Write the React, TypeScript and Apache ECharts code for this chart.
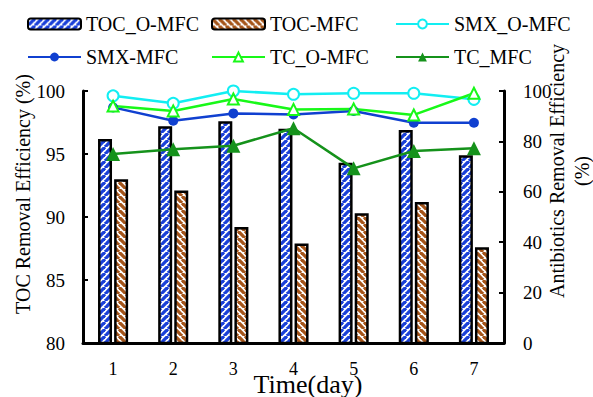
import React, { useEffect, useRef } from "react";
import * as echarts from "echarts";

const categories = ["1", "2", "3", "4", "5", "6", "7"];
const tocOMfc = [96.2, 97.2, 97.6, 97.0, 94.3, 96.9, 94.9];
const tocMfc = [93.0, 92.1, 89.2, 87.9, 90.3, 91.2, 87.6];
const smxOMfc = [98.1, 95.1, 100, 98.7, 99.1, 99.1, 96.7];
const smxMfc = [93.5, 88.2, 91.1, 90.7, 92.1, 87.4, 87.4];
const tcOMfc = [94.0, 92.1, 96.8, 92.7, 92.9, 90.5, 99.1];
const tcMfc = [75.0, 76.9, 78.3, 85.2, 69.3, 76.2, 77.3];

const FONT = "Liberation Serif";

function makeStripe(color: string, dir: "/" | "\\") {
  const c = document.createElement("canvas");
  const s = 7;
  c.width = s;
  c.height = s;
  const ctx = c.getContext("2d")!;
  ctx.fillStyle = "#ffffff";
  ctx.fillRect(0, 0, s, s);
  ctx.strokeStyle = color;
  ctx.lineWidth = 3.3;
  for (const k of [-s, 0, s]) {
    ctx.beginPath();
    if (dir === "/") {
      ctx.moveTo(k, s);
      ctx.lineTo(k + s, 0);
    } else {
      ctx.moveTo(k, 0);
      ctx.lineTo(k + s, s);
    }
    ctx.stroke();
  }
  return c;
}

export default function App() {
  const ref = useRef<HTMLDivElement>(null);
  useEffect(() => {
    if (!ref.current) return;
    const chart = echarts.init(ref.current, null, { renderer: "svg" });
    const bluePat = { image: makeStripe("#1a40d8", "/"), repeat: "repeat" };
    const brownPat = { image: makeStripe("#a5551a", "\\"), repeat: "repeat" };
    const legendBase = {
      orient: "vertical",
      top: 9,
      itemWidth: 53,
      itemHeight: 11,
      itemGap: 13,
      textStyle: { fontFamily: FONT, fontSize: 20, color: "#000", lineHeight: 20 },
    };
    const axisLabel = { fontFamily: FONT, fontSize: 19, color: "#000" };
    chart.setOption({
      animation: false,
      backgroundColor: "#fff",
      textStyle: { fontFamily: FONT },
      grid: { left: 83, right: 89, top: 91, bottom: 54 },
      legend: [
        { ...legendBase, left: 22, data: ["TOC_O-MFC", "SMX-MFC"] },
        { ...legendBase, left: 206, data: ["TOC-MFC", "TC_O-MFC"] },
        { ...legendBase, left: 390, data: ["SMX_O-MFC", "TC_MFC"] },
      ],
      xAxis: {
        type: "category",
        data: categories,
        boundaryGap: true,
        axisLine: { lineStyle: { color: "#000", width: 3 } },
        axisTick: { inside: false, length: 6, lineStyle: { color: "#000", width: 2 } },
        axisLabel: { ...axisLabel, fontSize: 18, margin: 17 },
        splitLine: { show: false },
      },
      yAxis: [
        {
          type: "value",
          min: 80,
          max: 100,
          interval: 5,
          axisLine: { show: true, lineStyle: { color: "#000", width: 3 } },
          axisTick: { show: true, inside: true, length: 5, lineStyle: { color: "#000", width: 2 } },
          axisLabel: { ...axisLabel, margin: 18 },
          splitLine: { show: false },
        },
        {
          type: "value",
          min: 0,
          max: 100,
          interval: 20,
          position: "right",
          axisLine: { show: true, lineStyle: { color: "#000", width: 3 } },
          axisTick: { show: true, inside: true, length: 5, lineStyle: { color: "#000", width: 2 } },
          axisLabel: { ...axisLabel, margin: 19 },
          splitLine: { show: false },
        },
      ],
      graphic: [
        {
          type: "text",
          x: 308,
          y: 384,
          style: {
            text: "Time(day)",
            font: `26px ${FONT}`,
            fill: "#000",
            textAlign: "center",
            textVerticalAlign: "middle",
          },
        },
        {
          type: "text",
          x: 23,
          y: 194,
          rotation: Math.PI / 2,
          style: {
            text: "TOC Removal Efficiency (%)",
            font: `20px ${FONT}`,
            fill: "#000",
            textAlign: "center",
            textVerticalAlign: "middle",
          },
        },
        {
          type: "text",
          x: 569,
          y: 171,
          rotation: Math.PI / 2,
          style: {
            text: "Antibiotics Removal Efficiency\n(%)",
            font: `20px ${FONT}`,
            lineHeight: 25,
            fill: "#000",
            textAlign: "center",
            textVerticalAlign: "middle",
          },
        },
      ],
      series: [
        {
          name: "TOC_O-MFC",
          type: "bar",
          data: tocOMfc,
          barWidth: 14,
          barGap: "15%",
          itemStyle: { color: bluePat, borderColor: "#000", borderWidth: 2.5 },
        },
        {
          name: "TOC-MFC",
          type: "bar",
          data: tocMfc,
          barWidth: 14,
          barGap: "15%",
          itemStyle: { color: brownPat, borderColor: "#000", borderWidth: 2.5 },
        },
        {
          name: "SMX_O-MFC",
          type: "line",
          yAxisIndex: 1,
          data: smxOMfc,
          symbol: "emptyCircle",
          symbolSize: 11,
          lineStyle: { color: "#12eef2", width: 2.5 },
          itemStyle: { color: "#12eef2", borderWidth: 2 },
          z: 5,
        },
        {
          name: "SMX-MFC",
          type: "line",
          yAxisIndex: 1,
          data: smxMfc,
          symbol: "circle",
          symbolSize: 10,
          lineStyle: { color: "#1040d0", width: 2.5 },
          itemStyle: { color: "#1040d0" },
          z: 5,
        },
        {
          name: "TC_O-MFC",
          type: "line",
          yAxisIndex: 1,
          data: tcOMfc,
          symbol: "emptyTriangle",
          symbolSize: 11,
          lineStyle: { color: "#18f818", width: 2.5 },
          itemStyle: { color: "#18f818", borderWidth: 2 },
          z: 5,
        },
        {
          name: "TC_MFC",
          type: "line",
          yAxisIndex: 1,
          data: tcMfc,
          symbol: "triangle",
          symbolSize: 14,
          lineStyle: { color: "#15921b", width: 2.5 },
          itemStyle: { color: "#15921b" },
          z: 5,
        },
      ],
    });
    return () => chart.dispose();
  }, []);
  return <div ref={ref} style={{ width: 593, height: 397, position: "absolute", left: 0, top: 0 }} />;
}
